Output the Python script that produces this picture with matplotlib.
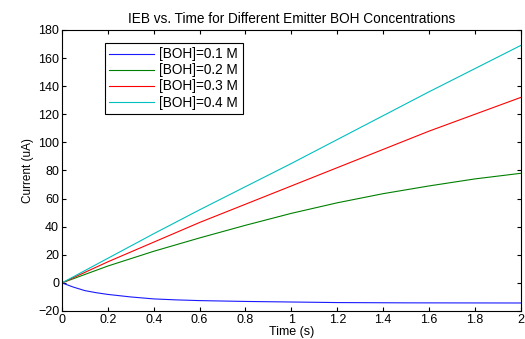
import numpy as np
import matplotlib
matplotlib.use('Agg')
import matplotlib.pyplot as plt

plt.rcParams['font.family'] = ['Liberation Sans', 'DejaVu Sans']

# values
t_blue = [0, 0.05, 0.1, 0.15, 0.2, 0.3, 0.4, 0.5, 0.6, 0.8, 1.0, 1.2, 1.5, 2.0]
i_01 = [0, -3.0, -5.5, -7.0, -8.2, -10.0, -11.4, -12.1, -12.6, -13.2, -13.6, -14.0, -14.2, -14.3]

t = [0, 0.2, 0.4, 0.6, 0.8, 1.0, 1.2, 1.4, 1.6, 1.8, 2.0]
i_02 = [0, 12, 22.5, 32, 41, 49.5, 57, 63.5, 69, 74, 78]
i_03 = [0, 15, 29, 43, 56, 69, 82, 95, 108, 120, 132]
i_04 = [0, 17.5, 35, 52, 68.5, 85, 102, 119, 136, 152.5, 169]

labels = ['[BOH]=0.1 M', '[BOH]=0.2 M', '[BOH]=0.3 M', '[BOH]=0.4 M']
colors = ['#1a1aff', '#008000', '#ff0000', '#00bfbf']

fig = plt.figure(figsize=(5.25, 3.39), dpi=100)
ax = fig.add_axes([0.118, 0.0826, 0.874, 0.829])

ax.plot(t_blue, i_01, color=colors[0], lw=0.8, label=labels[0])
ax.plot(t, i_02, color=colors[1], lw=0.8, label=labels[1])
ax.plot(t, i_03, color=colors[2], lw=0.8, label=labels[2])
ax.plot(t, i_04, color=colors[3], lw=0.8, label=labels[3])

ax.set_xlim(0, 2)
ax.set_ylim(-20, 180)
ax.set_xticks(np.arange(0, 2.01, 0.2))
ax.set_xticklabels(['0', '0.2', '0.4', '0.6', '0.8', '1', '1.2', '1.4', '1.6', '1.8', '2'])
ax.set_yticks(np.arange(-20, 181, 20))
ax.tick_params(direction='in', top=True, right=True, labelsize=9, length=3, pad=2)
for s in ax.spines.values():
    s.set_linewidth(0.8)

ax.set_title('IEB vs. Time for Different Emitter BOH Concentrations', fontsize=9.8, pad=5)
ax.set_xlabel('Time (s)', fontsize=9, labelpad=0)
ax.set_ylabel('Current (uA)', fontsize=8.5, labelpad=3)

leg = ax.legend(loc='upper left', bbox_to_anchor=(0.093, 0.955), fontsize=9.8,
                handlelength=3.3, handletextpad=0.35, labelspacing=0.15,
                borderpad=0.35, borderaxespad=0, fancybox=False, framealpha=1,
                edgecolor='black')
leg.get_frame().set_linewidth(0.8)

fig.savefig('out.png', dpi=100)
